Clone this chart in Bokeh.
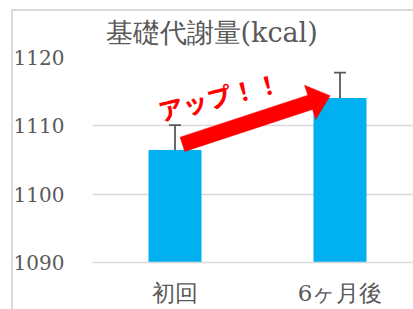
import math
from bokeh.plotting import figure
from bokeh.models import ColumnDataSource, Whisker, TeeHead, FixedTicker, Range1d, InlineStyleSheet
from bokeh.core.properties import value
from bokeh.embed import file_html
from bokeh.resources import INLINE

# ---- data ----
categories = ["初回", "6ヶ月後"]
values = [1106.4, 1114.0]
errors = [3.7, 3.8]
y_ticks = [1090, 1100, 1110, 1120]
title_text = "基礎代謝量(kcal)"
callout_text = "アップ！！"
# annotation anchors (data units)
arrow_start = (0.545, 1107.3)
arrow_end = (1.44, 1114.4)
callout_pos = (0.767, 1114.35)

# ---- layout ----
W, H = 413, 309
FL, FT, FB = 92, 57, 47
PX_PER_CAT = 165.0
frame_w = W - FL
frame_h = H - FT - FB
y0, y1 = y_ticks[0], y_ticks[-1]
xs = [i + 0.5 for i in range(len(categories))]

GRAY = "#595959"
GRID = "#d9d9d9"

border_css = InlineStyleSheet(css=f"""
:host {{ position: relative; }}
:host::after {{
  content: ''; position: absolute; left: 11px; top: 9px; right: 0; bottom: 0;
  border-left: 2px solid {GRID}; border-top: 2px solid {GRID};
  pointer-events: none; z-index: 100;
}}
""")

p = figure(width=W, height=H, output_backend="svg", toolbar_location=None,
           x_range=Range1d(0, frame_w / PX_PER_CAT), y_range=Range1d(y0, y1),
           min_border_left=FL, min_border_top=FT, min_border_bottom=FB, min_border_right=0,
           stylesheets=[border_css])
p.outline_line_color = None
p.background_fill_color = "white"
p.border_fill_color = "white"

p.title.text = title_text
p.title.align = "left"
p.title.offset = 13
p.title.standoff = 20
p.title.text_font = "DejaVu Serif"
p.title.text_font_size = "27px"
p.title.text_font_style = "normal"
p.title.text_color = GRAY

p.xgrid.grid_line_color = None
p.ygrid.grid_line_color = GRID
p.ygrid.grid_line_width = 1.5

p.yaxis.ticker = FixedTicker(ticks=y_ticks)
p.yaxis.axis_line_color = None
p.yaxis.major_tick_line_color = None
p.yaxis.minor_tick_line_color = None
p.yaxis.major_label_standoff = 22
p.yaxis.major_label_text_font = "DejaVu Serif"
p.yaxis.major_label_text_font_size = "20px"
p.yaxis.major_label_text_color = GRAY

p.xaxis.ticker = FixedTicker(ticks=xs)
p.xaxis.major_label_overrides = {x: c for x, c in zip(xs, categories)}
p.xaxis.axis_line_color = GRID
p.xaxis.axis_line_width = 1.5
p.xaxis.major_tick_line_color = None
p.xaxis.minor_tick_line_color = None
p.xaxis.major_label_standoff = 11
p.xaxis.major_label_text_font = "DejaVu Serif"
p.xaxis.major_label_text_font_size = "23px"
p.xaxis.major_label_text_color = GRAY

src = ColumnDataSource(dict(x=xs, top=values,
                            upper=[v + e for v, e in zip(values, errors)],
                            lower=[v - e for v, e in zip(values, errors)]))
p.vbar(x="x", top="top", bottom=y0, width=52 / PX_PER_CAT, color="#00B0F0", source=src)
w = Whisker(base="x", upper="upper", lower="lower", source=src,
            line_color=GRAY, line_width=1.8,
            upper_head=TeeHead(size=12, line_color=GRAY, line_width=1.8),
            lower_head=TeeHead(size=12, line_color=GRAY, line_width=1.8))
p.add_layout(w)

# fat arrow as polygon, built in pixel space then mapped back to data
sx = PX_PER_CAT
sy = frame_h / (y1 - y0)
tx, ty = arrow_start[0] * sx, arrow_start[1] * sy
hx, hy = arrow_end[0] * sx, arrow_end[1] * sy
L = math.hypot(hx - tx, hy - ty)
dx, dy = (hx - tx) / L, (hy - ty) / L
nx, ny = -dy, dx
shaft_w, head_w, head_len = 15.0, 36.0, 21.0
bx, by = hx - head_len * dx, hy - head_len * dy
pts = [
    (tx + nx * shaft_w / 2, ty + ny * shaft_w / 2),
    (bx + nx * shaft_w / 2, by + ny * shaft_w / 2),
    (bx + nx * head_w / 2, by + ny * head_w / 2),
    (hx, hy),
    (bx - nx * head_w / 2, by - ny * head_w / 2),
    (bx - nx * shaft_w / 2, by - ny * shaft_w / 2),
    (tx - nx * shaft_w / 2, ty - ny * shaft_w / 2),
]
p.patch([q[0] / sx for q in pts], [q[1] / sy for q in pts], fill_color="#FF0000", line_color="#FF0000", line_width=0.5)

p.text(x=[callout_pos[0]], y=[callout_pos[1]], text=[callout_text], angle=14, angle_units="deg",
       text_align="center", text_baseline="middle", text_font=value("Noto Sans CJK JP"),
       text_font_style="bold", text_font_size="25px", text_color="#FF0000")

open("out.html", "w").write(file_html(p, INLINE))
